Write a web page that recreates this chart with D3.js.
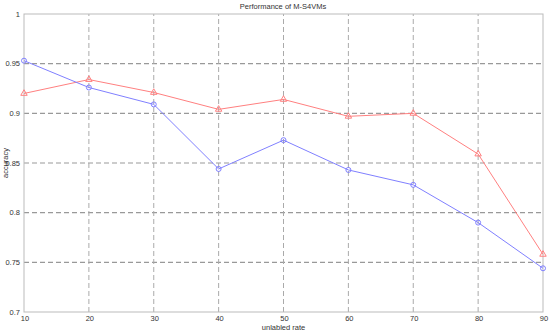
<!DOCTYPE html>
<html>
<head>
<meta charset="utf-8">
<script src="https://cdn.jsdelivr.net/npm/d3@7"></script>
<style>
  body { margin: 0; background: #fff; }
  text { font-family: "Liberation Sans", Arial, sans-serif; fill: #333; }
</style>
</head>
<body>
<div id="chart"></div>
<script>
const rates = [10, 20, 30, 40, 50, 60, 70, 80, 90];
const redAcc = [0.920, 0.934, 0.921, 0.904, 0.914, 0.897, 0.900, 0.859, 0.758];
const blueAcc = [0.953, 0.926, 0.909, 0.844, 0.873, 0.843, 0.828, 0.790, 0.744];
const yTicks = [0.7, 0.75, 0.8, 0.85, 0.9, 0.95, 1];
const xTicks = [10, 20, 30, 40, 50, 60, 70, 80, 90];

const width = 550, height = 332;
const margin = {top: 14, right: 7, bottom: 20, left: 24};

const svg = d3.select('#chart').append('svg')
  .attr('width', width).attr('height', height);

const x = d3.scaleLinear().domain([10, 90]).range([margin.left, width - margin.right]);
const y = d3.scaleLinear().domain([0.7, 1]).range([height - margin.bottom, margin.top]);

// grid
svg.append('g').selectAll('line').data(yTicks.slice(1, -1)).enter().append('line')
  .attr('x1', x(10)).attr('x2', x(90))
  .attr('y1', d => y(d)).attr('y2', d => y(d))
  .attr('stroke', '#999').attr('stroke-width', 1.2).attr('stroke-dasharray', '5,3');
svg.append('g').selectAll('line').data(xTicks.slice(1, -1)).enter().append('line')
  .attr('y1', y(0.7)).attr('y2', y(1))
  .attr('x1', d => x(d)).attr('x2', d => x(d))
  .attr('stroke', '#aaa').attr('stroke-width', 1).attr('stroke-dasharray', '5,3');

// frame
svg.append('rect')
  .attr('x', x(10)).attr('y', y(1))
  .attr('width', x(90) - x(10)).attr('height', y(0.7) - y(1))
  .attr('fill', 'none').attr('stroke', '#bbb').attr('stroke-width', 1);

// tick labels
svg.append('g').selectAll('text').data(yTicks).enter().append('text')
  .attr('x', x(10) - 4).attr('y', d => y(d) + 2.5)
  .attr('text-anchor', 'end').attr('font-size', 7.5)
  .text(d => d3.format('')(d));
svg.append('g').selectAll('text').data(xTicks).enter().append('text')
  .attr('x', d => x(d) + 1).attr('y', y(0.7) + 9)
  .attr('text-anchor', 'middle').attr('font-size', 7.5)
  .text(d => d);

// titles
svg.append('text').attr('x', width / 2 + 8).attr('y', 9)
  .attr('text-anchor', 'middle').attr('font-size', 7.5)
  .text('Performance of M-S4VMs');
svg.append('text').attr('x', (x(10) + x(90)) / 2).attr('y', 330)
  .attr('text-anchor', 'middle').attr('font-size', 7.5)
  .text('unlabled rate');
svg.append('text')
  .attr('transform', 'translate(8,' + ((y(0.7) + y(1)) / 2) + ') rotate(-90)')
  .attr('text-anchor', 'middle').attr('font-size', 7.5)
  .text('accuracy');

const line = d3.line().x(d => x(d[0])).y(d => y(d[1]));

// red series
const red = rates.map((r, i) => [r, redAcc[i]]);
svg.append('path').datum(red)
  .attr('d', line).attr('fill', 'none').attr('stroke', '#ff8080').attr('stroke-width', 1);
svg.append('g').selectAll('path').data(red).enter().append('path')
  .attr('d', d3.symbol().type(d3.symbolTriangle).size(18))
  .attr('transform', d => 'translate(' + x(d[0]) + ',' + y(d[1]) + ')')
  .attr('fill', 'none').attr('stroke', '#ff8080').attr('stroke-width', 1);

// blue series
const blue = rates.map((r, i) => [r, blueAcc[i]]);
svg.append('path').datum(blue)
  .attr('d', line).attr('fill', 'none').attr('stroke', '#8080ff').attr('stroke-width', 1);
svg.append('g').selectAll('circle').data(blue).enter().append('circle')
  .attr('cx', d => x(d[0])).attr('cy', d => y(d[1])).attr('r', 2.5)
  .attr('fill', 'none').attr('stroke', '#8080ff').attr('stroke-width', 1);
</script>
</body>
</html>
